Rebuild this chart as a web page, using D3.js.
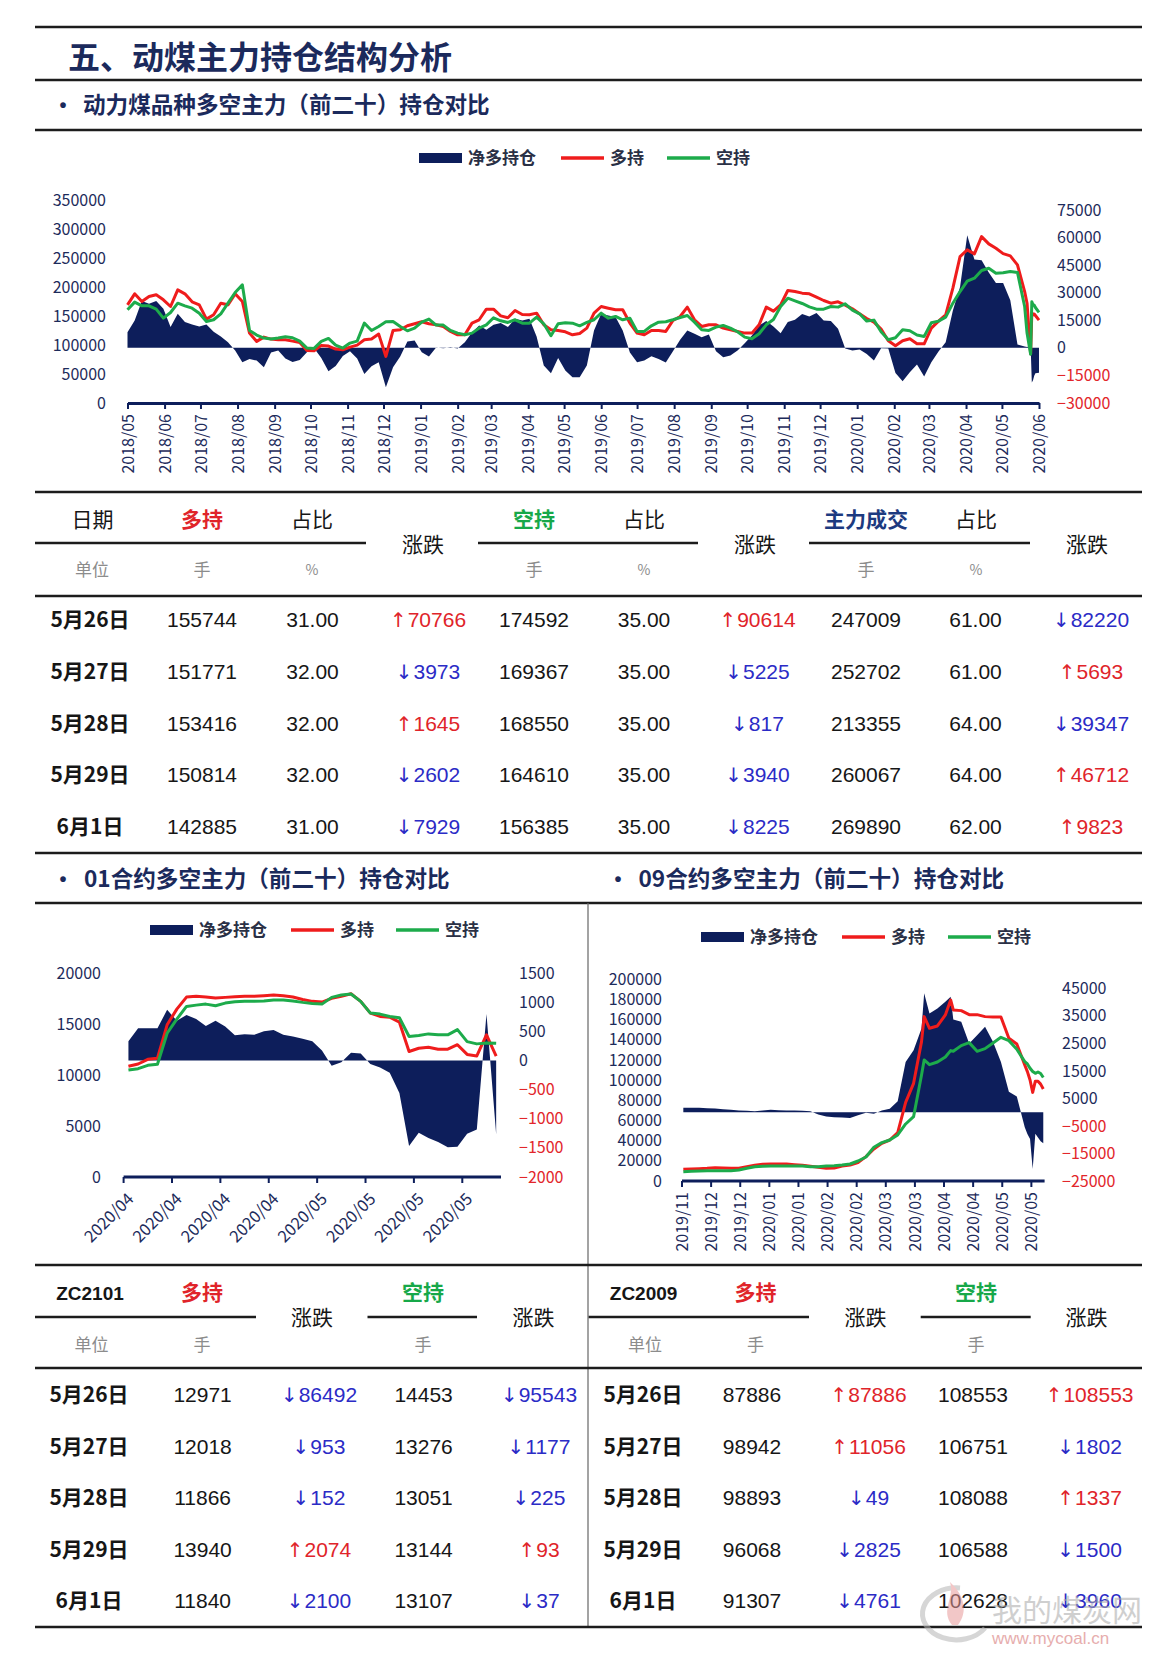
<!DOCTYPE html>
<html><head><meta charset="utf-8"><title>动煤主力持仓结构分析</title>
<script src="https://cdn.jsdelivr.net/npm/d3@7/dist/d3.min.js"></script>
<style>
html,body{margin:0;padding:0;background:#fff;}
svg{display:block;}
</style></head>
<body>
<svg id="chart" width="1166" height="1654" xmlns="http://www.w3.org/2000/svg"></svg>
<script>
// ================= DATA =================
// --- 动力煤品种多空主力（前二十）持仓 ---
const mainDates = ["2018-05-01","2018-05-07","2018-05-13","2018-05-19","2018-05-25","2018-05-31","2018-06-06","2018-06-12","2018-06-18","2018-06-24",
"2018-06-30","2018-07-06","2018-07-12","2018-07-18","2018-07-24","2018-07-30","2018-08-05","2018-08-11","2018-08-17","2018-08-23",
"2018-08-29","2018-09-04","2018-09-10","2018-09-16","2018-09-22","2018-09-28","2018-10-04","2018-10-10","2018-10-16","2018-10-22",
"2018-10-28","2018-11-03","2018-11-09","2018-11-15","2018-11-21","2018-11-27","2018-12-03","2018-12-09","2018-12-15","2018-12-21",
"2018-12-27","2019-01-02","2019-01-08","2019-01-14","2019-01-20","2019-01-26","2019-02-01","2019-02-07","2019-02-13","2019-02-19",
"2019-02-25","2019-03-03","2019-03-09","2019-03-15","2019-03-21","2019-03-27","2019-04-02","2019-04-08","2019-04-14","2019-04-20",
"2019-04-26","2019-05-02","2019-05-08","2019-05-14","2019-05-20","2019-05-26","2019-06-01","2019-06-07","2019-06-13","2019-06-19",
"2019-06-25","2019-07-01","2019-07-07","2019-07-13","2019-07-19","2019-07-25","2019-07-31","2019-08-06","2019-08-12","2019-08-18",
"2019-08-24","2019-08-30","2019-09-05","2019-09-11","2019-09-17","2019-09-23","2019-09-29","2019-10-05","2019-10-11","2019-10-17",
"2019-10-23","2019-10-29","2019-11-04","2019-11-10","2019-11-16","2019-11-22","2019-11-28","2019-12-04","2019-12-10","2019-12-16",
"2019-12-22","2019-12-28","2020-01-03","2020-01-09","2020-01-15","2020-01-21","2020-01-27","2020-02-02","2020-02-08","2020-02-14",
"2020-02-20","2020-02-26","2020-03-03","2020-03-09","2020-03-15","2020-03-21","2020-03-27","2020-04-02","2020-04-08","2020-04-14",
"2020-04-20","2020-04-26","2020-05-02","2020-05-08","2020-05-14","2020-05-20",
"2020-05-22","2020-05-25","2020-05-26","2020-05-27","2020-05-28","2020-05-29","2020-06-01"];
const mainLong = [169300,188200,175000,183600,186500,177900,166400,195100,188200,174400,
169300,144600,152100,172100,169300,188200,175000,120500,106200,113600,
110200,109000,109000,106700,104400,90700,90100,99300,98100,93000,
91800,96400,99800,109000,110200,118800,80300,125100,126200,133100,
136600,140000,136600,134800,132000,123400,117600,117600,137700,143500,
161800,161800,150300,146900,159500,152600,152100,154900,134800,126200,
125100,122800,117600,119900,129100,154900,166400,163500,160700,160700,
137700,120500,117600,125100,125100,123400,142300,149200,165300,143500,
132000,134800,134800,129100,126200,123400,120500,120500,134800,165300,
158400,169300,194000,192200,189400,188200,182500,176700,172100,174400,
168700,162400,153800,145700,139400,127400,107300,98700,107300,110700,
102100,102100,129100,141200,152100,198000,252500,264000,257100,286900,
274300,266800,257600,253600,238100,192200,
172100,84978,155744,151771,153416,150814,142885];
const mainShort = [160700,173900,167500,167500,161800,146300,156100,172100,167500,163500,
154900,140600,143500,153800,172100,190500,203700,125100,117100,111900,
110200,111900,114200,112500,106700,94700,94100,106200,111300,99800,
94700,103300,106700,137700,125100,132000,140000,140600,132000,124500,
129100,139400,144600,134300,134300,125100,120500,117600,120500,129100,
134800,146900,141700,138900,143500,137700,137700,148000,136600,115900,
136600,138300,137700,133100,138900,143500,154900,146300,149200,143500,
146300,123400,123400,133100,139400,140000,143500,147500,150900,139400,
126200,125100,130800,133700,129100,122800,113600,110700,119400,134800,
144000,166400,180700,176200,171600,165800,161800,161800,166400,165300,
171000,160100,153800,141200,142900,122800,109000,112500,126200,124500,
117100,114800,138300,141200,148000,172100,192200,210000,215200,228400,
232400,223800,224400,226700,224900,166400,
120500,83978,174592,169367,168550,164610,156385];
const mainNet = [8550,14920,25480,24020,25480,21290,11280,18560,14010,12740,
11650,12740,8740,6190,3090,-1460,-7830,-6010,-6920,-10560,
-2550,-1460,-5820,-7640,-6550,-2370,-200,-5460,-12740,-9830,
-4370,-1820,-5820,-14200,-10010,-7830,-21480,-10560,-4730,3460,
4000,-2370,-4730,200,-200,300,-400,3090,8370,12190,
9830,12560,13470,11280,15830,14920,15830,6190,-9650,-13830,
-5460,-12380,-16020,-16020,-9650,9460,18560,17650,16740,9460,
-2550,-7830,-6920,-4550,-6010,-8010,-1820,4370,9460,7640,
5820,7280,-1820,-5100,-4190,-1460,2550,6730,12190,14560,
11650,8010,14010,15290,18380,17110,18930,14920,14560,10370,
-300,-1460,-900,-3280,-6920,-200,-400,-13650,-18200,-13290,
-9100,-15650,-7830,-2000,3090,20380,33120,61330,48050,47680,
40950,35310,35310,25840,1820,730,
400,1000,-18848,-17596,-15134,-13796,-13500];
const mainLeftTicks = [0,50000,100000,150000,200000,250000,300000,350000];
const mainRightTicks = [-30000,-15000,0,15000,30000,45000,60000,75000];

// --- 01合约 ---
const zc01Dates = ["2020-04-02","2020-04-03","2020-04-07","2020-04-08","2020-04-09","2020-04-10","2020-04-13","2020-04-14","2020-04-15","2020-04-16",
"2020-04-17","2020-04-20","2020-04-21","2020-04-22","2020-04-23","2020-04-24","2020-04-27","2020-04-28","2020-04-29","2020-04-30",
"2020-05-06","2020-05-07","2020-05-08","2020-05-11","2020-05-12","2020-05-13","2020-05-14","2020-05-15","2020-05-18","2020-05-19",
"2020-05-20","2020-05-21","2020-05-22","2020-05-25","2020-05-26","2020-05-27","2020-05-28","2020-05-29","2020-06-01"];
const zc01Long = [10850,11080,11540,11640,14920,16460,17640,17710,17640,17540,
17610,17670,17710,17710,17770,17840,17770,17640,17410,17220,
17150,17510,17710,17970,17220,16070,15740,15670,15180,12300,
12620,12720,12530,12530,12971,12018,11866,13940,11840];
const zc01Short = [10490,10620,10950,11050,14100,15480,16720,16850,16950,16790,
17050,17180,17220,17220,17250,17350,17350,17250,17120,17020,
16950,17610,17840,17940,17220,16070,15970,15740,15610,13770,
13870,14030,13940,13940,14453,13276,13051,13144,13107];
const zc01Net = [330,550,550,550,870,680,780,710,590,680,
580,430,450,440,500,520,440,410,370,330,
170,-90,-30,130,120,-60,-120,-210,-560,-1470,
-1240,-1330,-1400,-1490,-1482,-1258,-1185,796,-1267];
const zc01LeftTicks = [0,5000,10000,15000,20000];
const zc01RightTicks = [-2000,-1500,-1000,-500,0,500,1000,1500];

// --- 09合约 (trading-day number within the contract window, 137 days) ---
const zc09DayCount = 137;
const zc09Day = [0,3,6,9,12,15,18,21,24,27,30,33,36,39,42,45,48,51,54,57,60,63,66,69,72,75,78,81,84,87,90,91,93,96,99,101,102,105,108,111,114,117,120,123,126,129,130,131,132,133,134,135,136];
const zc09Long = [11570,11900,12230,12560,13220,12890,12560,12560,14220,15540,16530,16860,16860,16860,16200,15540,14550,13560,12560,12890,14880,15870,18180,24130,31740,37360,40660,47940,78020,96870,138190,162990,151420,153730,164640,179520,169600,168940,164970,164970,162990,162660,162660,141500,135880,115050,108440,100170,87886,98942,98893,96068,91307];
const zc09Short = [9260,9590,9920,10250,10250,10250,10250,10910,12560,14220,14550,14880,14880,14880,14880,14880,14220,14220,14880,15210,15870,16860,19840,23800,33390,38020,40660,45620,56530,63810,105100,120010,115380,118020,122980,129270,128600,134220,137200,128600,131250,136870,142490,139180,130590,118360,116040,111740,108553,106751,108088,106588,102628];
const zc09Net = [1580,1580,1580,1460,1340,1090,850,610,490,370,610,850,730,610,610,490,370,-850,-1580,-1820,-1950,-2070,-1090,-240,-610,610,1220,4010,18240,22500,30400,43170,35870,37700,40130,41950,33680,32830,24930,27970,31010,25540,18240,7420,5720,-5470,-7900,-9730,-20667,-7809,-9195,-10520,-11321];
const zc09TickLabels = ["2019/11","2019/12","2019/12","2020/01","2020/01","2020/02","2020/02","2020/03","2020/03","2020/04","2020/04","2020/05","2020/05"];
const zc09LeftTicks = [0,20000,40000,60000,80000,100000,120000,140000,160000,180000,200000];
const zc09RightTicks = [-25000,-15000,-5000,5000,15000,25000,35000,45000];

// --- Tables ---
const tblDates = ["5月26日","5月27日","5月28日","5月29日","6月1日"];
const mainLongT = [155744,151771,153416,150814,142885];
const mainLongPct = ["31.00","32.00","32.00","32.00","31.00"];
const mainLongChg = [70766,-3973,1645,-2602,-7929];
const mainShortT = [174592,169367,168550,164610,156385];
const mainShortPct = ["35.00","35.00","35.00","35.00","35.00"];
const mainShortChg = [90614,-5225,-817,-3940,-8225];
const mainVolT = [247009,252702,213355,260067,269890];
const mainVolPct = ["61.00","61.00","64.00","64.00","62.00"];
const mainVolChg = [-82220,5693,-39347,46712,9823];
const zc2101Long = [12971,12018,11866,13940,11840];
const zc2101LongChg = [-86492,-953,-152,2074,-2100];
const zc2101Short = [14453,13276,13051,13144,13107];
const zc2101ShortChg = [-95543,-1177,-225,93,-37];
const zc2009Long = [87886,98942,98893,96068,91307];
const zc2009LongChg = [87886,11056,-49,-2825,-4761];
const zc2009Short = [108553,106751,108088,106588,102628];
const zc2009ShortChg = [108553,-1802,1337,-1500,-3960];

// ================= DRAW =================
const svg = d3.select("#chart");
const C = {navy:"#0d1e5b", axis:"#1d2b5b", red:"#ef1c1c", green:"#1dab4b", ink:"#161616",
  gray:"#8c8c8c", blue:"#2b2bc6", tred:"#e0242a", tgreen:"#17a849", title:"#1b2a5c", neg:"#e2262b"};
const CJK = "'Noto Sans CJK SC','Noto Sans',sans-serif";
const NUM = "'Liberation Sans',Arial,sans-serif";
const parse = d3.timeParse("%Y-%m-%d");
const fmtYM = d3.timeFormat("%Y/%m");

function hline(x1,x2,y,w,c){ svg.append("line").attr("x1",x1).attr("x2",x2).attr("y1",y).attr("y2",y).attr("stroke",c||"#1c1c1c").attr("stroke-width",w||2.5); }
function vline(x,y1,y2,w,c){ svg.append("line").attr("x1",x).attr("x2",x).attr("y1",y1).attr("y2",y2).attr("stroke",c||"#666").attr("stroke-width",w||1.2); }
function txt(x,y,s,o){ o=o||{};
  return svg.append("text").attr("x",x).attr("y",y).attr("dy","0.35em")
   .attr("text-anchor",o.anchor||"middle").attr("font-family",o.font||CJK)
   .attr("font-size",o.size||21).attr("font-weight",o.weight||"normal")
   .attr("fill",o.fill||C.ink).text(s); }
function bullet(x,y){ txt(x,y,"•",{font:NUM,size:20,weight:"bold",fill:C.title}); }
function chg(x,y,v){
  const up = v>=0;
  const t = svg.append("text").attr("x",x).attr("y",y).attr("dy","0.35em").attr("text-anchor","middle")
     .attr("font-family",NUM).attr("font-size",21).attr("fill",up?C.tred:C.blue);
  t.append("tspan").attr("font-family","'DejaVu Sans',sans-serif").attr("font-size",20).text(up?"↑":"↓");
  t.append("tspan").attr("dx",1).text(Math.abs(v));
}
function legend(y, rx, lx, gx){
  svg.append("rect").attr("x",rx).attr("y",y-5).attr("width",43).attr("height",10).attr("fill",C.navy);
  txt(rx+49,y,"净多持仓",{anchor:"start",size:17,weight:600,fill:"#2a3045"});
  svg.append("line").attr("x1",lx).attr("x2",lx+43).attr("y1",y).attr("y2",y).attr("stroke",C.red).attr("stroke-width",3.5);
  txt(lx+49,y,"多持",{anchor:"start",size:17,weight:600,fill:"#2a3045"});
  svg.append("line").attr("x1",gx).attr("x2",gx+43).attr("y1",y).attr("y2",y).attr("stroke",C.green).attr("stroke-width",3.5);
  txt(gx+49,y,"空持",{anchor:"start",size:17,weight:600,fill:"#2a3045"});
}
function styleAxisText(sel, negRed){
  sel.selectAll("text").attr("font-family",CJK).attr("font-size",16)
    .attr("fill",d=> (negRed && d<0) ? C.neg : C.axis);
}
function leftAxis(scale, ticks, x){
  const g = svg.append("g").attr("transform",`translate(${x},0)`)
    .call(d3.axisLeft(scale).tickValues(ticks).tickSize(0).tickPadding(0).tickFormat(d3.format("d")));
  g.select(".domain").remove(); styleAxisText(g,false);
}
function rightAxis(scale, ticks, x){
  const g = svg.append("g").attr("transform",`translate(${x},0)`)
    .call(d3.axisRight(scale).tickValues(ticks).tickSize(0).tickPadding(0).tickFormat(d3.format("d")));
  g.select(".domain").remove(); styleAxisText(g,true);
}
function series(data, xf, yL, yR){
  svg.append("path").datum(data).attr("fill",C.navy)
    .attr("d", d3.area().x(xf).y0(yR(0)).y1(d=>yR(d.net)));
  svg.append("path").datum(data).attr("fill","none").attr("stroke",C.red).attr("stroke-width",3).attr("stroke-linejoin","round")
    .attr("d", d3.line().x(xf).y(d=>yL(d.long)));
  svg.append("path").datum(data).attr("fill","none").attr("stroke",C.green).attr("stroke-width",3).attr("stroke-linejoin","round")
    .attr("d", d3.line().x(xf).y(d=>yL(d.short)));
}

// ---- Header ----
hline(35,1142,27);
txt(68,58,"五、动煤主力持仓结构分析",{anchor:"start",size:32,weight:"bold",fill:C.title});
hline(35,1142,80);
bullet(63,105);
txt(83,105,"动力煤品种多空主力（前二十）持仓对比",{anchor:"start",size:22.6,weight:"bold",fill:C.title});
hline(35,1142,130);

// ---- Main chart ----
legend(158, 419, 561, 667);
const mainData = mainDates.map((d,i)=>({date:parse(d), long:mainLong[i], short:mainShort[i], net:mainNet[i]}));
const xM = d3.scaleTime().domain([parse("2018-05-01"), parse("2020-06-01")]).range([127.5,1039]);
const yML = d3.scaleLinear().domain([0,350000]).range([403,200]);
const yMR = d3.scaleLinear().domain([-30000,75000]).range([403,210]);
series(mainData, d=>xM(d.date), yML, yMR);
{
  const g = svg.append("g").attr("transform","translate(0,403)")
    .call(d3.axisBottom(xM).ticks(d3.timeMonth.every(1)).tickFormat(fmtYM).tickSizeInner(6).tickSizeOuter(0));
  g.select(".domain").attr("stroke",C.navy).attr("stroke-width",3);
  g.selectAll(".tick line").attr("stroke",C.navy).attr("stroke-width",2);
  g.selectAll(".tick text").attr("transform","rotate(-90)").attr("text-anchor","end")
    .attr("x",-11).attr("y",0).attr("dy","0.35em").attr("font-family",CJK).attr("font-size",16).attr("fill",C.axis);
}
leftAxis(yML, mainLeftTicks, 106);
rightAxis(yMR, mainRightTicks, 1057);

// ---- Top table ----
hline(35,1142,492);
[[92.5,"日期",C.ink,"normal"],[202,"多持",C.tred,"bold"],[312,"占比",C.ink,"normal"],[534,"空持",C.tgreen,"bold"],
 [644,"占比",C.ink,"normal"],[866,"主力成交","#1d3a80","bold"],[976,"占比",C.ink,"normal"]]
 .forEach(h=>txt(h[0],520,h[1],{fill:h[2],weight:h[3]}));
[423,755,1087].forEach(x=>txt(x,545,"涨跌"));
hline(35,366,543); hline(478,698,543); hline(809,1030,543);
[[92,"单位"],[202,"手"],[534,"手"],[866,"手"]].forEach(h=>txt(h[0],570,h[1],{size:17,fill:C.gray}));
[312,644,976].forEach(x=>txt(x,570,"%",{size:14,fill:C.gray}));
hline(35,1142,596);
tblDates.forEach((d,i)=>{
  const y = 620 + 51.7*i;
  txt(90,y,d,{weight:"bold"});
  txt(202,y,mainLongT[i],{font:NUM});
  txt(312.5,y,mainLongPct[i],{font:NUM});
  chg(428,y,mainLongChg[i]);
  txt(534,y,mainShortT[i],{font:NUM});
  txt(644,y,mainShortPct[i],{font:NUM});
  chg(757.5,y,mainShortChg[i]);
  txt(866,y,mainVolT[i],{font:NUM});
  txt(975.5,y,mainVolPct[i],{font:NUM});
  chg(1091,y,mainVolChg[i]);
});
hline(35,1142,853);

// ---- Section titles ----
bullet(63,879);
txt(84,879,"01合约多空主力（前二十）持仓对比",{anchor:"start",size:22.6,weight:"bold",fill:C.title});
bullet(618,879);
txt(638.5,879,"09合约多空主力（前二十）持仓对比",{anchor:"start",size:22.6,weight:"bold",fill:C.title});
hline(35,1142,903);
vline(588,903,1627);

// ---- 01 chart ----
legend(930, 150, 291, 396);
const z01 = zc01Dates.map((d,i)=>({date:d, long:zc01Long[i], short:zc01Short[i], net:zc01Net[i]}));
const x01 = d3.scaleBand().domain(zc01Dates).range([123.6,501]).padding(0);
const y01L = d3.scaleLinear().domain([0,20000]).range([1177,973]);
const y01R = d3.scaleLinear().domain([-2000,1500]).range([1177,973]);
series(z01, d=>x01(d.date)+x01.bandwidth()/2, y01L, y01R);
svg.append("line").attr("x1",123.6).attr("x2",501).attr("y1",1177).attr("y2",1177).attr("stroke",C.navy).attr("stroke-width",3);
{
  const tk = zc01Dates.filter((d,i)=>i%5===0);
  const g = svg.append("g");
  g.selectAll("line").data(tk).join("line").attr("x1",d=>x01(d)).attr("x2",d=>x01(d)).attr("y1",1177).attr("y2",1183).attr("stroke",C.navy).attr("stroke-width",2);
  g.selectAll("text").data(tk).join("text")
    .attr("transform",d=>`translate(${x01(d)+7},${1177+19}) rotate(-45)`)
    .attr("text-anchor","end").attr("dy","0.35em").attr("font-family",CJK).attr("font-size",16.5).attr("fill",C.axis)
    .text(d=>fmtYM(parse(d)));
}
leftAxis(y01L, zc01LeftTicks, 101);
rightAxis(y01R, zc01RightTicks, 519);

// ---- 09 chart ----
legend(937, 701, 842, 948);
const z09 = zc09Day.map((d,i)=>({day:d, long:zc09Long[i], short:zc09Short[i], net:zc09Net[i]}));
const x09 = d3.scaleLinear().domain([-0.5, zc09DayCount-0.5]).range([682,1044.6]);
const y09L = d3.scaleLinear().domain([0,200000]).range([1181,979.3]);
const y09R = d3.scaleLinear().domain([-25000,45000]).range([1181,988.3]);
series(z09, d=>x09(d.day), y09L, y09R);
svg.append("line").attr("x1",682).attr("x2",1044.6).attr("y1",1181).attr("y2",1181).attr("stroke",C.navy).attr("stroke-width",3);
{
  const tk = zc09TickLabels.map((l,i)=>({l, day:i*11}));
  const g = svg.append("g");
  g.selectAll("line").data(tk).join("line").attr("x1",d=>x09(d.day-0.5)).attr("x2",d=>x09(d.day-0.5)).attr("y1",1181).attr("y2",1187).attr("stroke",C.navy).attr("stroke-width",2);
  g.selectAll("text").data(tk).join("text")
    .attr("transform",d=>`translate(${x09(d.day-0.5)},${1181+11}) rotate(-90)`)
    .attr("text-anchor","end").attr("dy","0.35em").attr("font-family",CJK).attr("font-size",16).attr("fill",C.axis)
    .text(d=>d.l);
}
leftAxis(y09L, zc09LeftTicks, 662);
rightAxis(y09R, zc09RightTicks, 1062);

// ---- Bottom tables ----
hline(35,1142,1265);
function subTable(cx, code, long, longChg, short, shortChg){
  txt(cx.code,1293,code,{font:NUM,weight:"bold",size:19});
  txt(cx.long,1293,"多持",{fill:C.tred,weight:"bold"});
  txt(cx.short,1293,"空持",{fill:C.tgreen,weight:"bold"});
  txt(cx.lchgH,1318,"涨跌"); txt(cx.schgH,1318,"涨跌");
  txt(cx.unit,1345,"单位",{size:17,fill:C.gray});
  txt(cx.long,1345,"手",{size:17,fill:C.gray});
  txt(cx.short,1345,"手",{size:17,fill:C.gray});
  tblDates.forEach((d,i)=>{
    const y = 1395 + 51.4*i;
    txt(cx.date,y,d,{weight:"bold"});
    txt(cx.longV,y,long[i],{font:NUM});
    chg(cx.lchg,y,longChg[i]);
    txt(cx.shortV,y,short[i],{font:NUM});
    chg(cx.schg,y,shortChg[i]);
  });
}
subTable({code:90,long:202,short:423,lchgH:312,schgH:533.6,unit:91.6,date:89,longV:202.6,lchg:319,shortV:423.6,schg:539},
  "ZC2101", zc2101Long, zc2101LongChg, zc2101Short, zc2101ShortChg);
subTable({code:643.6,long:755.6,short:976,lchgH:865.6,schgH:1086.5,unit:645,date:643,longV:752,lchg:868.6,shortV:973,schg:1089.6},
  "ZC2009", zc2009Long, zc2009LongChg, zc2009Short, zc2009ShortChg);
hline(35,256,1317); hline(367.5,477,1317);
hline(588.6,809,1317); hline(920.7,1030.7,1317);
hline(35,1142,1368);
hline(35,1142,1627);

// ---- Watermark ----
const wm = svg.append("g").attr("opacity",0.55);
wm.append("path").attr("d","M 985 1628 A 34 26 0 1 1 960 1588").attr("fill","none").attr("stroke","#b5b5b5").attr("stroke-width",5);
wm.append("path").attr("d","M 952 1625 C 940 1610, 955 1598, 950 1582 C 965 1596, 968 1612, 958 1625 Z").attr("fill","#e89a9a");
wm.append("text").attr("x",992).attr("y",1610).attr("dy","0.35em").attr("font-family",CJK).attr("font-size",30)
  .attr("fill","#a9a9a9").text("我的煤炭网");
svg.append("text").attr("x",992).attr("y",1638).attr("dy","0.35em").attr("font-family",NUM).attr("font-size",17)
  .attr("fill","#e3a0a0").attr("opacity",0.85).text("www.mycoal.cn");
</script>
</body></html>
